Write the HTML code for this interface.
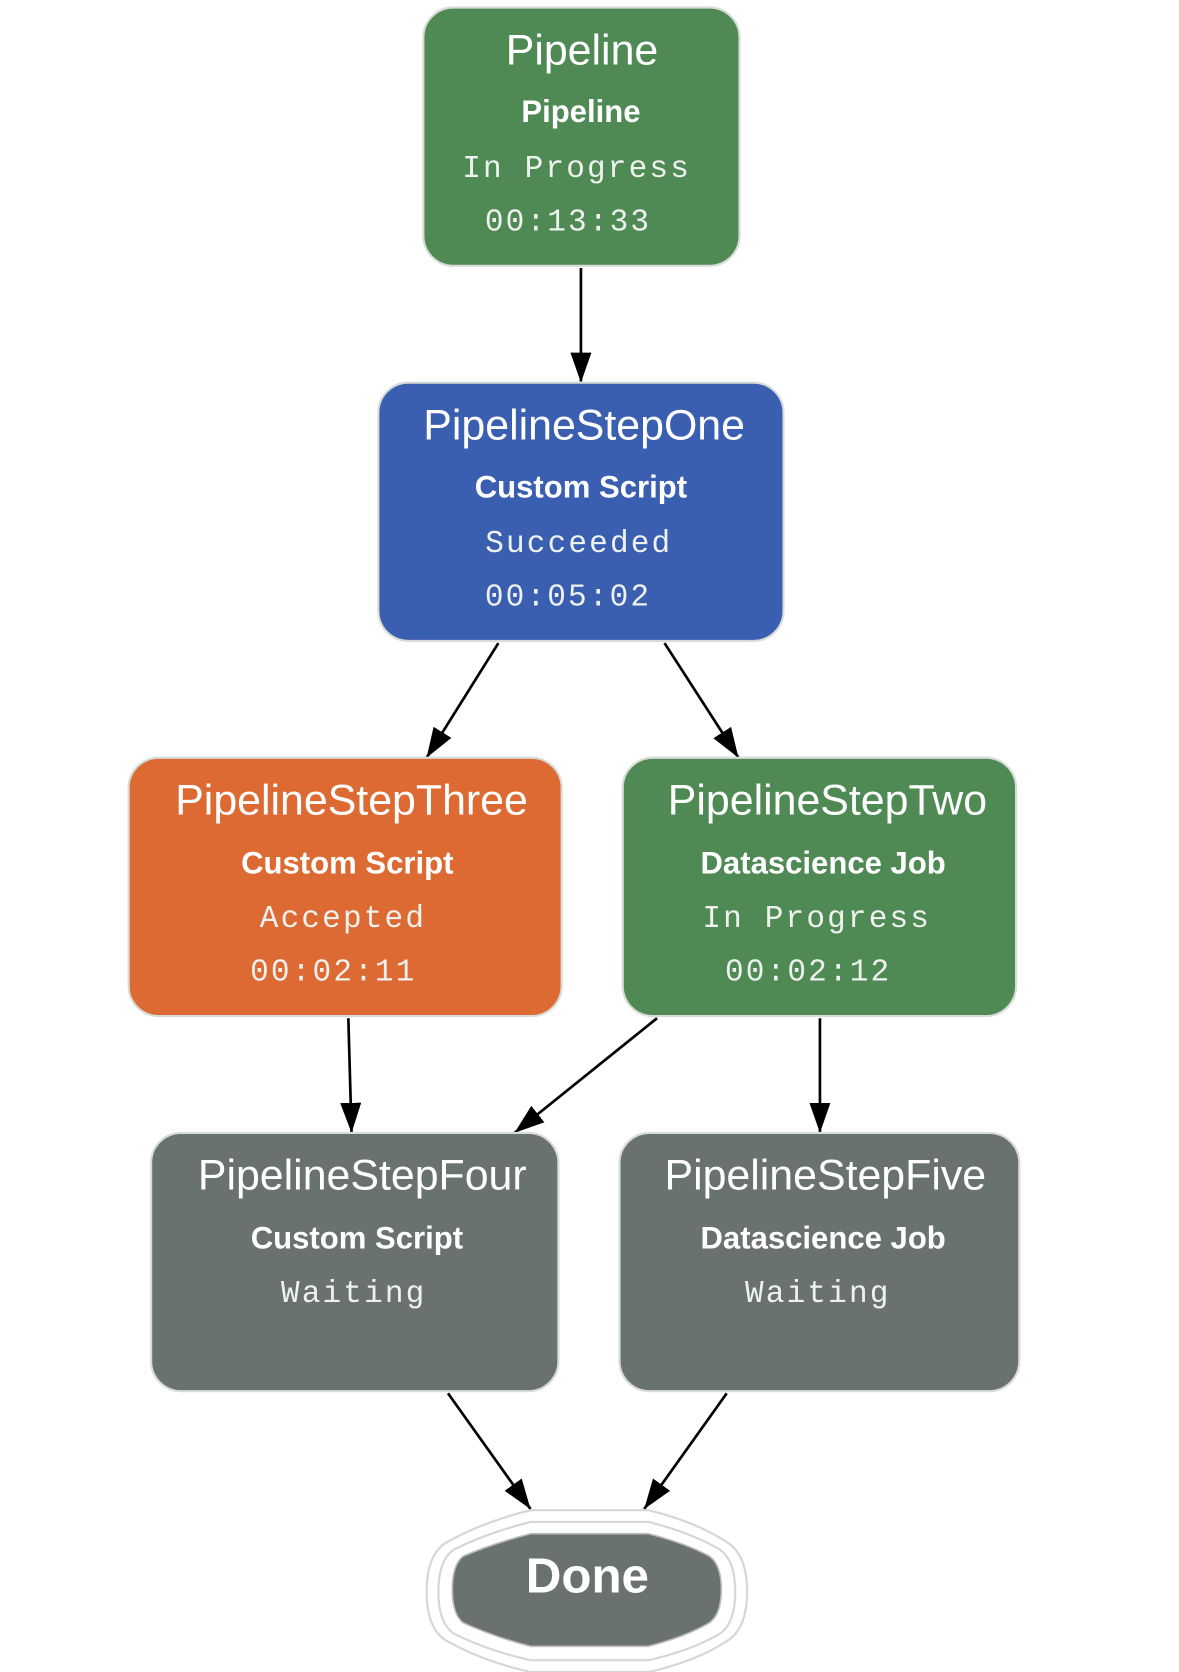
<!DOCTYPE html>
<html><head><style>html,body{margin:0;padding:0;background:#fff}svg{display:block}</style></head>
<body>
<svg width="1179" height="1672" viewBox="0 0 1100 1560" preserveAspectRatio="none" xmlns="http://www.w3.org/2000/svg">
<defs>
<marker id="b" viewBox="0 0 10 10" refX="10" refY="5" markerWidth="28" markerHeight="28" orient="auto" markerUnits="userSpaceOnUse"><path d="M0,1.5 L10,5 L0,8.5z" fill="#000"/></marker></defs>
<g stroke="#000" stroke-width="2.5" fill="none" marker-end="url(#b)">
<line x1="542" y1="250" x2="542" y2="357"/>
<line x1="465" y1="600" x2="398" y2="707"/>
<line x1="620" y1="600" x2="689" y2="707"/>
<line x1="325" y1="950" x2="328" y2="1057"/>
<line x1="613" y1="950" x2="480" y2="1057"/>
<line x1="765" y1="950" x2="765" y2="1057"/>
<line x1="418" y1="1300" x2="495" y2="1408"/>
<line x1="678" y1="1300" x2="601" y2="1408"/>
</g>
<g stroke="#d8dcd8" stroke-width="2">
<rect x="395" y="7" width="295" height="241" rx="28" fill="#4f8a55"/>
<rect x="353" y="357" width="378" height="241" rx="28" fill="#3a5eb0"/>
<rect x="120" y="707" width="404" height="241" rx="28" fill="#de6a33"/>
<rect x="581" y="707" width="367" height="241" rx="28" fill="#4f8a55"/>
<rect x="141" y="1057" width="380" height="241" rx="28" fill="#6a726f"/>
<rect x="578" y="1057" width="373" height="241" rx="28" fill="#6a726f"/>
</g>
<g fill="none" stroke="#d6d6d6" stroke-width="2">
<path d="M495,1409 L605,1409 Q650,1420 680,1440 Q697,1452 697,1485 Q697,1518 680,1530 Q650,1550 605,1560 L495,1560 Q450,1550 415,1530 Q398,1518 398,1485 Q398,1452 415,1440 Q450,1420 495,1409 Z"/>
<path d="M495,1420 L605,1420 Q645,1430 672,1446 Q686,1456 686,1485 Q686,1514 672,1524 Q645,1540 605,1549 L495,1549 Q455,1540 423,1524 Q409,1514 409,1485 Q409,1456 423,1446 Q455,1430 495,1420 Z"/>
</g>
<path d="M495,1431 L605,1431 Q640,1440 662,1452 Q673,1460 673,1483 Q673,1506 662,1514 Q640,1527 605,1536 L495,1536 Q460,1527 432,1514 Q422,1506 422,1483 Q422,1460 432,1452 Q460,1440 495,1431 Z" fill="#6a726f" stroke="#bbb" stroke-width="1.5"/>
<g fill="#fff" text-anchor="middle" font-family="Liberation Sans, sans-serif">
<g font-size="40"><text x="543" y="60">Pipeline</text><text x="545" y="410">PipelineStepOne</text><text x="328" y="760">PipelineStepThree</text><text x="772" y="760">PipelineStepTwo</text><text x="338" y="1110">PipelineStepFour</text><text x="770" y="1110">PipelineStepFive</text></g>
<g font-size="29" font-weight="bold"><text x="542" y="114">Pipeline</text><text x="542" y="464">Custom Script</text><text x="324" y="815">Custom Script</text><text x="768" y="815">Datascience Job</text><text x="333" y="1165">Custom Script</text><text x="768" y="1165">Datascience Job</text></g>
<text x="548" y="1486" font-size="46" font-weight="bold">Done</text>
</g>
<g fill="#eef2ee" text-anchor="middle" font-family="Liberation Mono, monospace" font-size="29" letter-spacing="2">
<text x="538" y="165">In Progress</text><text x="530" y="215">00:13:33</text>
<text x="540" y="515">Succeeded</text><text x="530" y="565">00:05:02</text>
<text x="320" y="865">Accepted</text><text x="311" y="915">00:02:11</text>
<text x="762" y="865">In Progress</text><text x="754" y="915">00:02:12</text>
<text x="330" y="1215">Waiting</text><text x="763" y="1215">Waiting</text>
</g>
</svg>
</body></html>
